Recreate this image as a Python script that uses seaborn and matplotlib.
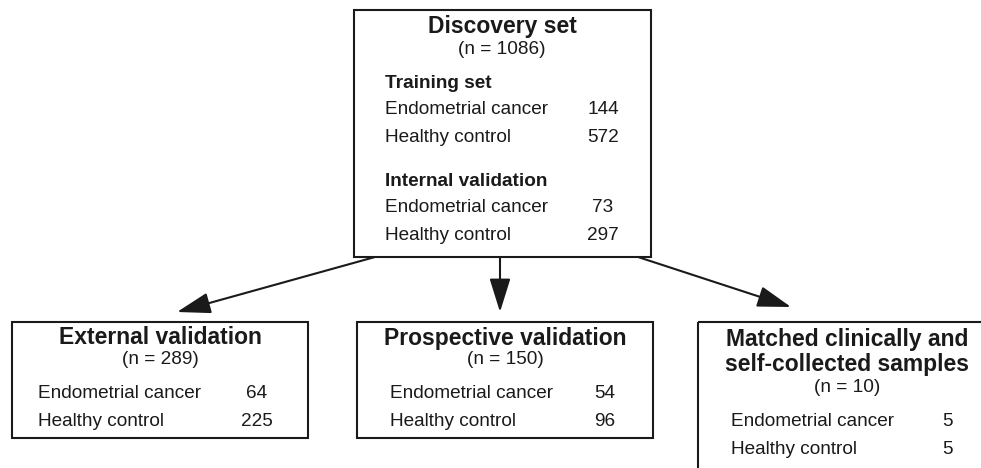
import matplotlib
matplotlib.use("Agg")
import matplotlib.pyplot as plt
import seaborn as sns
from matplotlib.patches import Rectangle

sns.set_theme(style="white")
plt.rcParams["font.family"] = ["Liberation Sans", "DejaVu Sans"]

# ---- data ----
top_title = "Discovery set"
top_n = 1086
top_sections = ["Training set", "Internal validation"]
categories = ["Endometrial cancer", "Healthy control"]
training_counts = [144, 572]
internal_counts = [73, 297]

bottom_titles = ["External validation", "Prospective validation",
                 "Matched clinically and\nself-collected samples"]
bottom_n = [289, 150, 10]
bottom_counts = [[64, 225], [54, 96], [5, 5]]

# ---- layout (pixel space) ----
W, H = 981, 468
fig = plt.figure(figsize=(W / 100, H / 100), dpi=100)
ax = fig.add_axes([0, 0, 1, 1])
ax.set_xlim(0, W)
ax.set_ylim(H, 0)
ax.axis("off")

EC = "#1a1a1a"
LW = 1.5
TFS = 16.5
BFS = 13.7

def box(x0, y0, x1, y1):
    ax.add_patch(Rectangle((x0, y0), x1 - x0, y1 - y0, fill=False,
                           edgecolor=EC, linewidth=LW, clip_on=True))

# top box
box(354, 10, 651, 257)
ax.text(502, 26, top_title, ha="center", va="center", fontsize=TFS,
        fontweight="bold", color=EC)
ax.text(502, 49, f"(n = {top_n})", ha="center", va="center",
        fontsize=BFS, color=EC)
sec_y = [83, 182]
for sy, sec, counts in zip(sec_y, top_sections, [training_counts, internal_counts]):
    ax.text(385, sy, sec, ha="left", va="center", fontsize=BFS,
            fontweight="bold", color=EC)
    for i, (cat, c) in enumerate(zip(categories, counts)):
        yy = sy + 26 + i * 28
        ax.text(385, yy, cat, ha="left", va="center", fontsize=BFS, color=EC)
        ax.text(603, yy, str(c), ha="center", va="center", fontsize=BFS, color=EC)

# bottom boxes
box_x = [(12, 308), (357, 653), (698, 1010)]
box_y = [(322, 438), (322, 438), (322, 490)]
title_cx = [160, 505, 847]
text_left = [38, 390, 731]
num_cx = [257, 605, 947]
for k in range(3):
    (x0, x1), (y0, y1) = box_x[k], box_y[k]
    box(x0, y0, x1, y1)
    nlines = bottom_titles[k].count("\n") + 1
    ty = 338 if nlines == 1 else 352
    ax.text(title_cx[k], ty, bottom_titles[k], ha="center", va="center",
            fontsize=TFS, fontweight="bold", color=EC, linespacing=1.12)
    ny = 359 if nlines == 1 else 388
    ax.text(title_cx[k], ny, f"(n = {bottom_n[k]})", ha="center", va="center",
            fontsize=BFS, color=EC)
    ry = 393 if nlines == 1 else 421
    for i, (cat, c) in enumerate(zip(categories, bottom_counts[k])):
        yy = ry + i * 28
        ax.text(text_left[k], yy, cat, ha="left", va="center", fontsize=BFS, color=EC)
        ax.text(num_cx[k], yy, str(c), ha="center", va="center", fontsize=BFS, color=EC)

# arrows
arrows = [((375, 257), (177, 312)), ((500, 257), (500, 312)), ((638, 257), (791, 307))]
for (sx, sy), (ex, ey) in arrows:
    ax.annotate("", xy=(ex, ey), xytext=(sx, sy),
                arrowprops=dict(arrowstyle="-|>,head_length=1.6,head_width=0.5",
                                mutation_scale=13, color=EC, lw=LW,
                                shrinkA=0, shrinkB=0))

fig.savefig("out.png", dpi=100, facecolor="white")
